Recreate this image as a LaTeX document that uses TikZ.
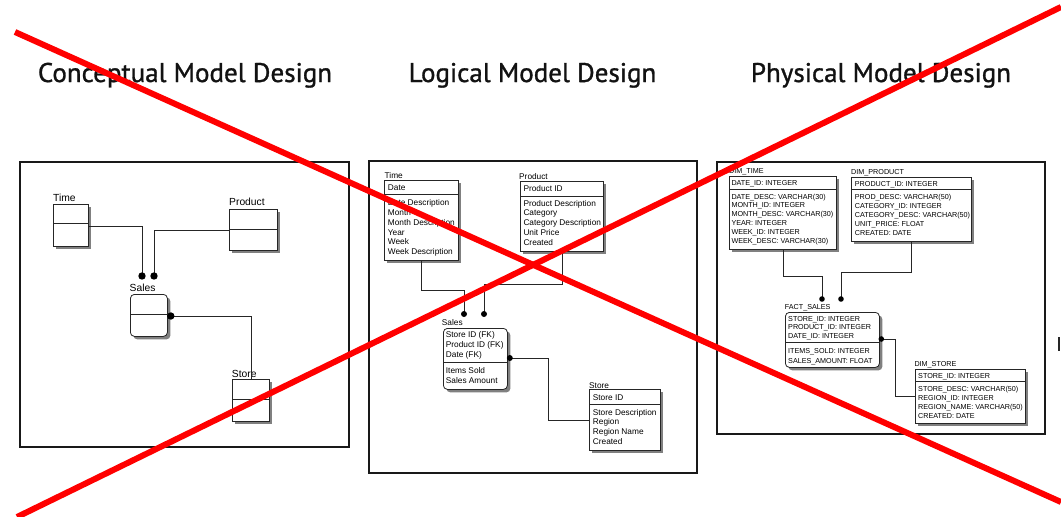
\documentclass[tikz,border=0pt]{standalone}
\usepackage{fontspec}
\newfontfamily\titlefont[FakeBold=1.1]{PT Sans}
\newfontfamily\uifont{Liberation Sans}
\usetikzlibrary{calc,shadows}

\tikzset{
  ent/.style={draw=black!85, fill=white, line width=0.8pt, inner sep=0pt, anchor=north west,
    drop shadow={shadow xshift=3pt, shadow yshift=-3pt, fill=black!50, opacity=1}},
  fact/.style={ent, rounded corners=4pt},
  frame/.style={draw=black!90, line width=1.8pt},
  conn/.style={draw=black!85, line width=0.8pt},
  divider/.style={draw=black!85, line width=0.7pt},
  title/.style={font=\titlefont\fontsize{27}{30}\selectfont, text=black!93, anchor=base, inner sep=0pt},
  lblA/.style={font=\uifont\fontsize{10.3}{12}\selectfont, anchor=base west, inner sep=0pt},
  lblB/.style={font=\uifont\fontsize{8.3}{10}\selectfont, anchor=base west, inner sep=0pt},
  lblC/.style={font=\uifont\fontsize{7.2}{9}\selectfont, anchor=base west, inner sep=0pt},
  cross/.style={draw=red, line width=6pt},
}

% one text node per field: name, style, x, first baseline, row step, fields
\newcommand\fieldrows[6]{%
  \foreach \txt [count=\k] in {#6} {\node[#2] (#1-\k) at (#3,{#4+#5*(\k-1)}) {\txt};}}
% line between key part and attribute part of an entity
\newcommand\splitline[2]{\draw[divider] ($(#1.north west)+(0,#2)$) -- ($(#1.north east)+(0,#2)$);}

\begin{document}
\begin{tikzpicture}[x=1pt,y=-1pt]
\fill[white] (0,0) rectangle (1061,517);
\useasboundingbox (0,0) rectangle (1061,517);

% headings
\node[title] (t1) at (185,82) {Conceptual Model Design};
\node[title] (t2) at (532.5,82) {Logical Model Design};
\node[title] (t3) at (881,82) {Physical Model Design};

% panel frames
\draw[frame] (20,162) rectangle (349,447);
\draw[frame] (369,161) rectangle (697,473);
\draw[frame] (717,162) rectangle (1045,434);

% ---------- conceptual model ----------
\node[ent, minimum width=35pt, minimum height=42pt] (ctime) at (53,204) {};
\splitline{ctime}{19}
\node[lblA] (ctime-l) at (53,201) {Time};
\node[ent, minimum width=48pt, minimum height=41pt] (cprod) at (229,209) {};
\splitline{cprod}{20}
\node[lblA] (cprod-l) at (229,205.5) {Product};
\node[fact, minimum width=37pt, minimum height=42pt] (csales) at (130,294) {};
\splitline{csales}{20}
\node[lblA] (csales-l) at (129.5,291) {Sales};
\node[ent, minimum width=37pt, minimum height=42pt] (cstore) at (232,379) {};
\splitline{cstore}{20}
\node[lblA] (cstore-l) at (231.7,377) {Store};

\coordinate (cd1) at (142,276);
\coordinate (cd2) at (154,276);
\coordinate (cd3) at ($(csales.north east)+(3,22)$);
\draw[conn] ($(ctime.north east)+(0,22)$) -| (cd1);
\draw[conn] ($(cprod.north west)+(0,21)$) -| (cd2);
\draw[conn] (cd3) -| (cstore.north);
\fill (cd1) circle (3.7);
\fill (cd2) circle (3.7);
\fill (cd3) circle (3.7);

% ---------- logical model ----------
\node[ent, minimum width=74pt, minimum height=80pt] (ltime) at (384,180) {};
\splitline{ltime}{14}
\node[lblB] (ltime-l) at (384.5,178) {Time};
\node[lblB] (ltime-k) at (387.7,190.5) {Date};
\fieldrows{ltime-a}{lblB}{387.7}{205.3}{9.9}{Date Description,Month,Month Description,Year,Week,Week Description}

\node[ent, minimum width=83pt, minimum height=70pt] (lprod) at (520,181) {};
\splitline{lprod}{15}
\node[lblB] (lprod-l) at (519,179) {Product};
\node[lblB] (lprod-k) at (523.3,191.3) {Product ID};
\fieldrows{lprod-a}{lblB}{523.3}{206}{9.83}{Product Description,Category,Category Description,Unit Price,Created}

\node[fact, minimum width=64pt, minimum height=61pt] (lsales) at (443,328) {};
\splitline{lsales}{34}
\node[lblB] (lsales-l) at (441.7,325.7) {Sales};
\fieldrows{lsales-k}{lblB}{445.7}{337.7}{10.1}{Store ID (FK),Product ID (FK),Date (FK)}
\fieldrows{lsales-a}{lblB}{445.7}{373}{10}{Items Sold,Sales Amount}

\node[ent, minimum width=71pt, minimum height=61pt] (lstore) at (589,389) {};
\splitline{lstore}{15}
\node[lblB] (lstore-l) at (589,388) {Store};
\node[lblB] (lstore-k) at (592.7,400.3) {Store ID};
\fieldrows{lstore-a}{lblB}{592.7}{415}{9.8}{Store Description,Region,Region Name,Created}

\coordinate (ld1) at (464,314);
\coordinate (ld2) at (484,314);
\coordinate (ld3) at ($(lsales.north east)+(2,30)$);
\draw[conn] (ltime.south) -- ++(0,30) -| (ld1);
\draw[conn] (lprod.south) -- ++(0,33) -| (ld2);
\draw[conn] (ld3) -- ++(39,0) |- ($(lstore.north west)+(0,31)$);
\fill (ld1) circle (3);
\fill (ld2) circle (3);
\fill (ld3) circle (3);

% ---------- physical model ----------
\node[ent, minimum width=107pt, minimum height=73pt] (ptime) at (729,176) {};
\splitline{ptime}{13}
\node[lblC] (ptime-l) at (729,173.6) {DIM\_TIME};
\node[lblC] (ptime-k) at (731.3,185) {DATE\_ID: INTEGER};
\fieldrows{ptime-a}{lblC}{731.3}{199}{8.94}{DATE\_DESC: VARCHAR(30),MONTH\_ID: INTEGER,MONTH\_DESC: VARCHAR(30),YEAR: INTEGER,WEEK\_ID: INTEGER,WEEK\_DESC: VARCHAR(30)}

\node[ent, minimum width=120pt, minimum height=64pt] (pprod) at (851,177) {};
\splitline{pprod}{12}
\node[lblC] (pprod-l) at (851,174.3) {DIM\_PRODUCT};
\node[lblC] (pprod-k) at (854.7,186) {PRODUCT\_ID: INTEGER};
\fieldrows{pprod-a}{lblC}{854.7}{199.6}{9.08}{PROD\_DESC: VARCHAR(50),CATEGORY\_ID: INTEGER,CATEGORY\_DESC: VARCHAR(50),UNIT\_PRICE: FLOAT,CREATED: DATE}

\node[fact, minimum width=94pt, minimum height=55pt] (psales) at (785,312) {};
\splitline{psales}{30}
\node[lblC] (psales-l) at (784.7,309.3) {FACT\_SALES};
\fieldrows{psales-k}{lblC}{788}{321}{8.85}{STORE\_ID: INTEGER,PRODUCT\_ID: INTEGER,DATE\_ID: INTEGER}
\fieldrows{psales-a}{lblC}{788}{353.6}{9.7}{ITEMS\_SOLD: INTEGER,SALES\_AMOUNT: FLOAT}

\node[ent, minimum width=110pt, minimum height=54pt] (pstore) at (915,369) {};
\splitline{pstore}{12}
\node[lblC] (pstore-l) at (914.3,366.6) {DIM\_STORE};
\node[lblC] (pstore-k) at (918,378) {STORE\_ID: INTEGER};
\fieldrows{pstore-a}{lblC}{918}{391.6}{9.1}{STORE\_DESC: VARCHAR(50),REGION\_ID: INTEGER,REGION\_NAME: VARCHAR(50),CREATED: DATE}

\coordinate (pd1) at (822,299);
\coordinate (pd2) at (841,299);
\coordinate (pd3) at ($(psales.north east)+(1.5,27)$);
\draw[conn] (ptime.south) -- ++(0,27) -| (pd1);
\draw[conn] (pprod.south) -- ++(0,31) -| (pd2);
\draw[conn] (pd3) -- ++(14,0) |- ($(pstore.north west)+(0,27)$);
\fill (pd1) circle (2.8);
\fill (pd2) circle (2.8);
\fill (pd3) circle (2.8);

% clipped glyph at the right edge
\fill[black!85] (1058,337) rectangle (1059.7,351);

% crossing-out strokes
\draw[cross] (15,32) -- (1061,502);
\draw[cross] (17,517) -- (1061,7);
\end{tikzpicture}
\end{document}
